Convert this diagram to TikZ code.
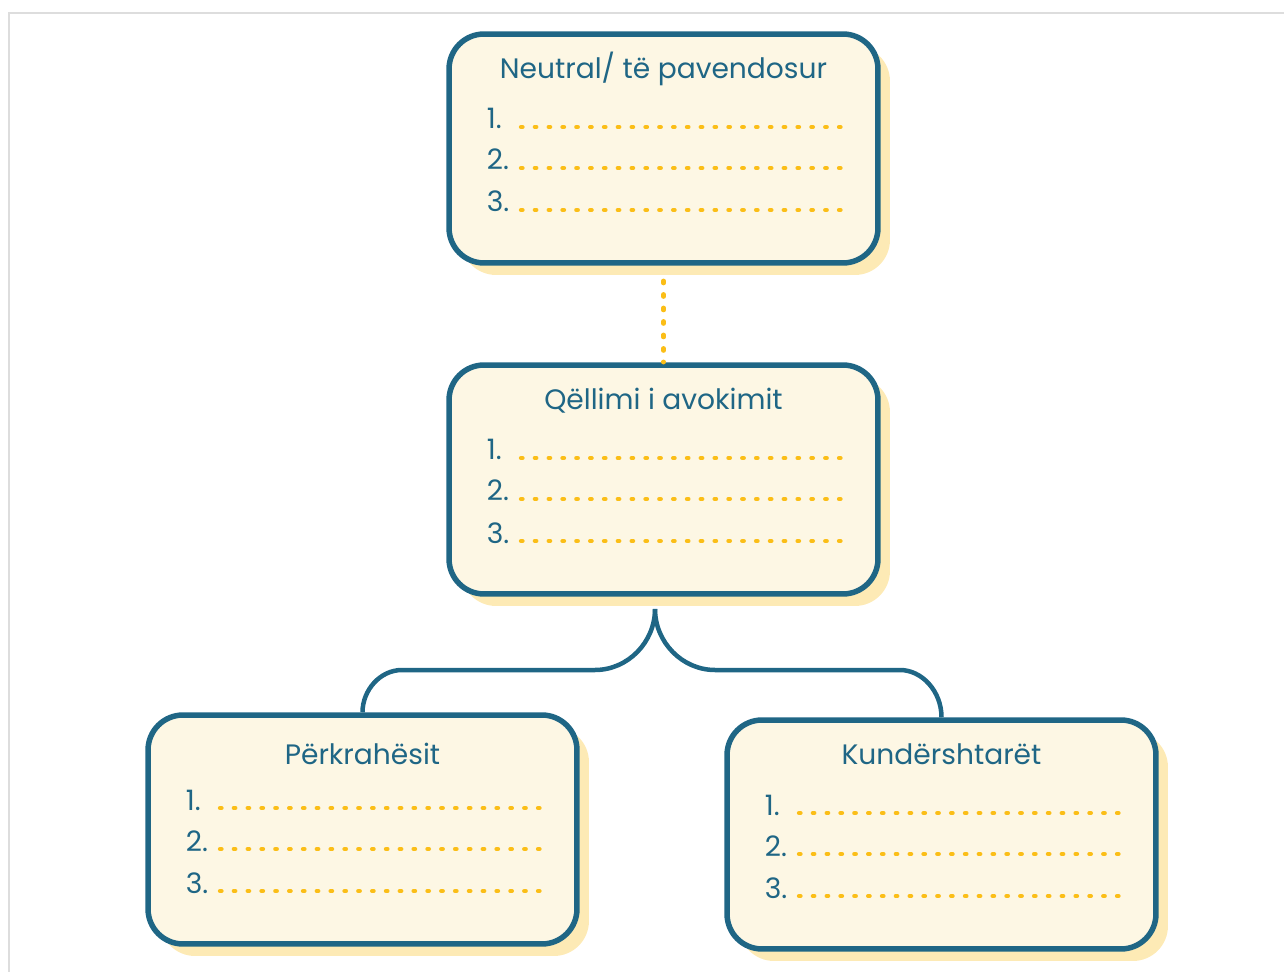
\documentclass[tikz,border=0pt]{standalone}
\usepackage{fontspec}
\setmainfont{Poppins}
\usetikzlibrary{shadows}
\definecolor{petrol}{HTML}{1F6685}
\definecolor{dotyellow}{HTML}{FBBE17}
\definecolor{boxfill}{HTML}{FDF7E4}
\definecolor{boxshadow}{HTML}{FDEAB5}
\definecolor{framegray}{HTML}{DDDDDD}

\begin{document}
\begin{tikzpicture}[x=0.02cm, y=-0.02cm,
    kutia/.style={draw=petrol, line width=0.11cm, fill=boxfill, rounded corners=0.7cm,
      minimum width=8.58cm, minimum height=4.58cm,
      drop shadow={shadow xshift=0.24cm, shadow yshift=-0.24cm, fill=boxshadow, opacity=1}},
    titulli/.style={text=petrol, font=\fontsize{16}{19}\selectfont, anchor=base},
    numri/.style={text=petrol, font=\fontsize{16}{19}\selectfont, anchor=base west, inner sep=0pt},
    pikat/.style={draw=dotyellow, line width=0.085cm, line cap=round, dash pattern=on 0.03cm off 0.2466cm},
    lidhja/.style={draw=petrol, line width=0.09cm}]
    \useasboundingbox (0,0) rectangle (1284,972);
    \draw[framegray, line width=0.03cm] (9,972) -- (9,13) -- (1284,13);

    \node[kutia] (neutral) at (663.5, 148.5) {};
    \node[kutia] (qellimi) at (663.5, 479.5) {};
    \node[kutia] (perkrahes) at (362.5, 829.5) {};
    \node[kutia] (kundershtar) at (941.5, 834.5) {};

    \node[titulli] (t-neutral) at ([yshift=1.4cm]neutral.center) {Neutral/ të pavendosur};
    \node[titulli] (t-qellimi) at ([yshift=1.4cm]qellimi.center) {Qëllimi i avokimit};
    \node[titulli] (t-perkrahes) at ([yshift=1.3cm]perkrahes.center) {Përkrahësit};
    \node[titulli] (t-kundershtar) at ([yshift=1.4cm]kundershtar.center) {Kundërshtarët};

    \foreach \b in {neutral, qellimi, perkrahes, kundershtar}
      \foreach \n/\dy in {1/-21.5, 2/19.5, 3/61.5} {
        \node[numri] (\b-\n) at ([shift={(-177,\dy+2)}]\b.center) {\n.};
        \draw[pikat] ([shift={(-142.5,\dy)}]\b.center) -- ([shift={(177,\dy)}]\b.center);
      }

    % lidhjet
    \draw[pikat, dash pattern=on 0.05cm off 0.22cm] ([yshift=-0.3cm]neutral.south) -- (qellimi.north);
    \coordinate (fork) at (655, 609);
    \coordinate (fork-l) at (595, 670);
    \coordinate (bend-l) at (402, 670);
    \coordinate (fork-r) at (715, 670);
    \coordinate (bend-r) at (900, 670);
    \draw[lidhja] (fork) .. controls +(0,33) and +(33,0) .. (fork-l) -- (bend-l)
      .. controls +(-22,0) and +(0,-22) .. (perkrahes.north);
    \draw[lidhja] (fork) .. controls +(0,33) and +(-33,0) .. (fork-r) -- (bend-r)
      .. controls +(22,0) and +(0,-26) .. (kundershtar.north);
\end{tikzpicture}
\end{document}
